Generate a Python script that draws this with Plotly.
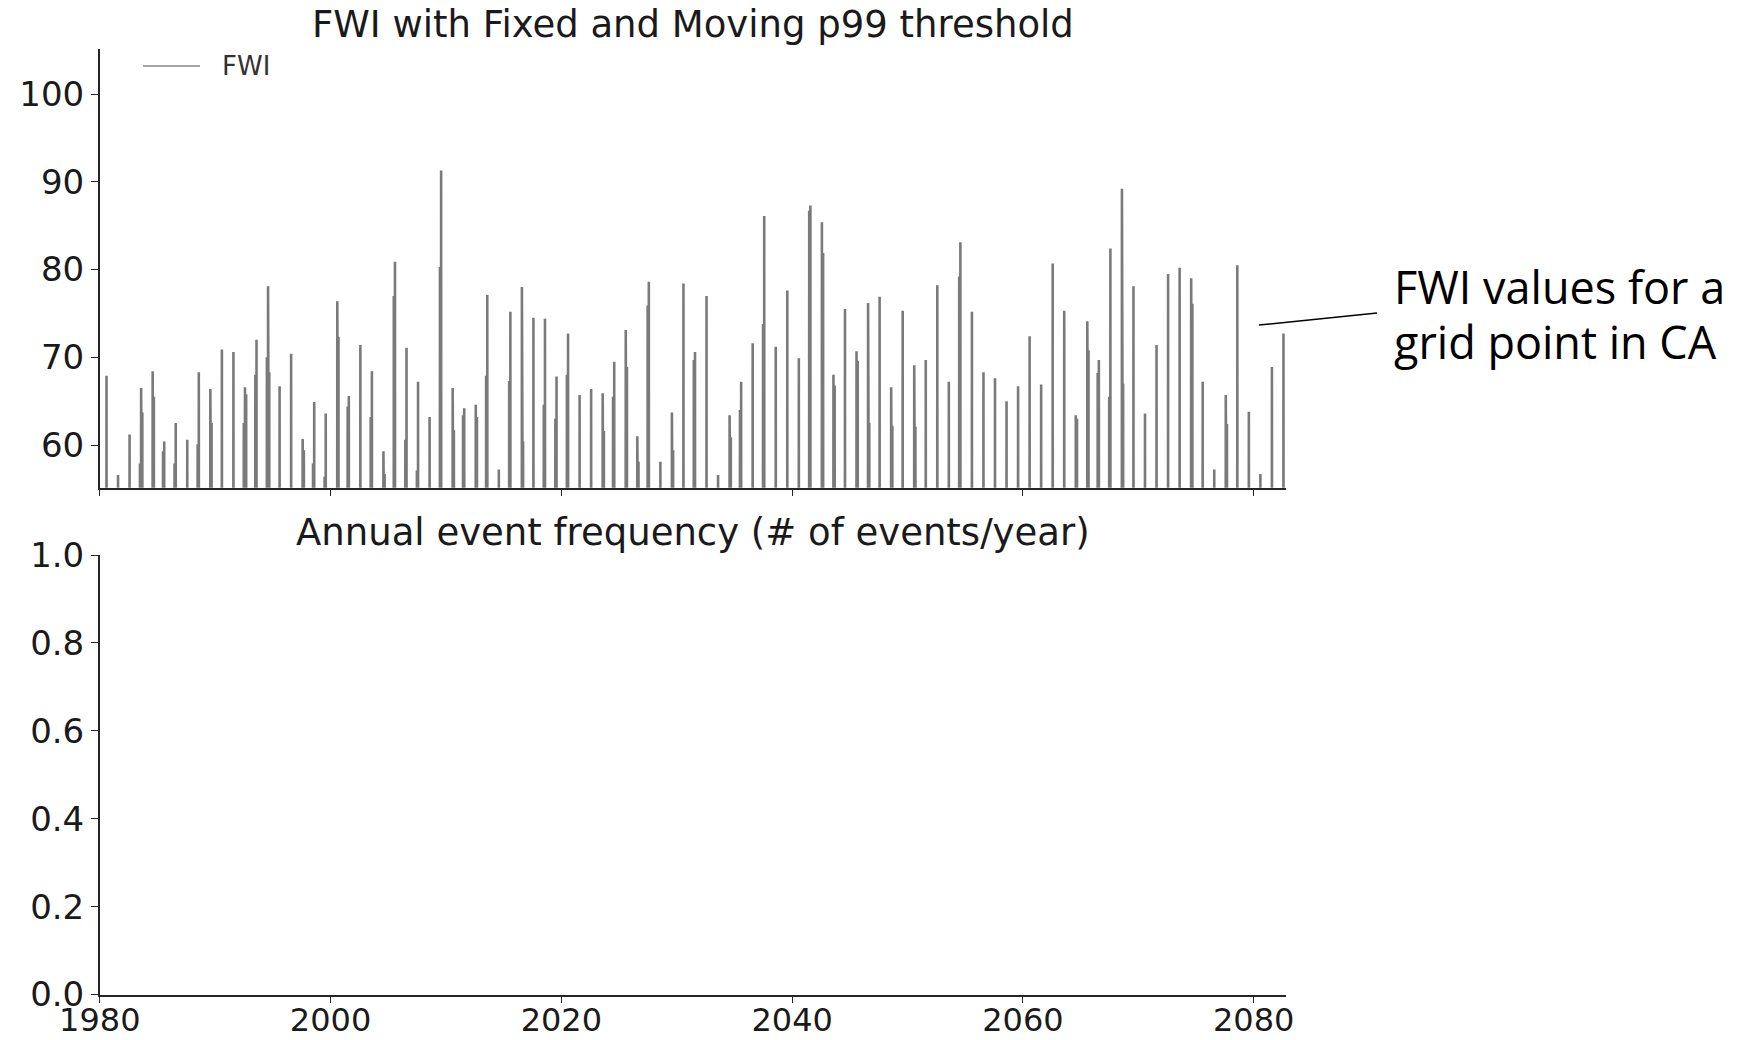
import plotly.graph_objects as go

# ---------------- data ----------------
years = list(range(1980, 2083))

# highest FWI spike of each fire season
peak_main = [
    67.9, 56.6, 61.2, 66.5, 68.4, 60.4, 62.5, 60.6, 68.3, 66.4,   # 1980-1989
    70.9, 70.6, 66.6, 72.0, 78.1, 66.7, 70.4, 60.7, 64.9, 63.6,   # 1990-1999
    76.4, 65.6, 71.4, 68.4, 59.3, 80.9, 71.1, 67.2, 63.2, 91.3,   # 2000-2009
    66.5, 64.2, 64.6, 77.1, 57.2, 75.2, 78.0, 74.5, 74.4, 67.8,   # 2010-2019
    72.7, 65.7, 66.4, 65.9, 69.5, 73.1, 61.0, 78.6, 58.1, 63.7,   # 2020-2029
    78.4, 70.6, 77.0, 56.6, 63.4, 67.2, 71.6, 86.1, 71.2, 77.6,   # 2030-2039
    69.9, 87.3, 85.4, 68.0, 75.5, 70.7, 76.2, 76.9, 66.6, 75.3,   # 2040-2049
    69.1, 69.7, 78.2, 67.2, 83.1, 75.2, 68.3, 67.6, 65.0, 66.7,   # 2050-2059
    72.4, 66.9, 80.7, 75.3, 63.4, 74.1, 69.7, 82.4, 89.2, 78.1,   # 2060-2069
    63.6, 71.4, 79.5, 80.2, 79.0, 67.2, 57.2, 65.7, 80.5, 63.8,   # 2070-2079
    56.7, 68.9, 72.7,                                             # 2080-2082
]

# smaller spike earlier in the same season (None = none visible above 55)
peak_early = [
    None, None, None, 57.9, None, 59.3, 57.9, None, 60.1, None,
    None, None, 62.5, 68.0, 70.0, None, None, None, 57.9, 56.4,
    None, 64.4, None, 63.2, None, 77.0, 60.6, 57.1, None, 80.3,
    None, 63.4, None, 67.9, None, 67.3, None, None, 64.6, 63.0,
    68.0, None, None, None, 65.5, None, None, 75.9, None, None,
    None, 69.7, None, None, None, 64.0, None, 73.8, None, None,
    None, 86.7, None, None, None, None, None, None, None, None,
    None, None, None, None, 79.2, None, None, None, None, None,
    None, None, None, None, None, None, 68.2, 65.5, None, None,
    None, None, None, None, None, None, None, None, None, None,
    None, None, None,
]

# smaller spike later in the same season
peak_late = [
    None, None, None, 63.7, 65.5, None, None, None, None, 62.5,
    None, None, 65.8, None, 68.3, None, None, 59.4, None, None,
    72.3, None, None, None, 56.7, None, None, None, None, None,
    61.7, None, 63.2, None, None, None, 60.4, None, None, None,
    None, None, None, 61.6, None, 68.9, 58.1, None, None, 59.4,
    None, None, None, None, 60.9, None, None, None, None, None,
    None, None, 81.9, 66.8, None, 69.6, 62.5, None, 62.2, None,
    62.1, None, None, None, None, None, None, None, None, None,
    None, None, None, None, 63.0, 70.8, None, None, 67.0, None,
    None, None, None, None, 76.1, None, None, 62.4, None, None,
    None, None, None,
]

# FWI between events drops well below the plotted window (off-scale trough)
fwi_trough = 40.0

# day of year of the spikes
day_early, day_main, day_late = 175, 212, 250
half_width_days = 3

y_ticks_top = [60, 70, 80, 90, 100]
y_ticks_bottom = [0.0, 0.2, 0.4, 0.6, 0.8, 1.0]
x_ticks = [1980, 2000, 2020, 2040, 2060, 2080]

# ---------------- build the daily-like series ----------------
t, v = [], []
for yr, e, m, l in zip(years, peak_early, peak_main, peak_late):
    for day, val in ((day_early, e), (day_main, m), (day_late, l)):
        if val is None:
            continue
        t += [yr + (day - half_width_days) / 365.0, yr + day / 365.0,
              yr + (day + half_width_days) / 365.0]
        v += [fwi_trough, val, fwi_trough]

W, H = 1758, 1040
FONT = "DejaVu Sans"
AX = "#262626"

x_dom = [99.8 / W, 1286 / W]
top_dom = [1 - 487.7 / H, 1 - 49.3 / H]
bot_dom = [1 - 994.5 / H, 1 - 555 / H]

fig = go.Figure()
fig.add_trace(go.Scatter(
    x=t, y=v, mode="lines", name="FWI",
    line=dict(color="#7a7a7a", width=2.6),
    xaxis="x", yaxis="y", showlegend=False, hoverinfo="skip",
))
# empty lower panel
fig.add_trace(go.Scatter(x=[], y=[], xaxis="x2", yaxis="y2", showlegend=False))

common_x = dict(
    range=[1980, 2082.8], tickvals=x_ticks, tickformat="d",
    showline=True, linecolor=AX, linewidth=1.5, ticks="outside",
    ticklen=7, tickwidth=1.3, tickcolor=AX, showgrid=False, zeroline=False,
    domain=x_dom, automargin=False, ticklabelstandoff=-11,
    tickfont=dict(family=FONT, size=32, color="#1a1a1a"),
)
common_y = dict(
    showline=True, linecolor=AX, linewidth=1.5, ticks="outside",
    ticklen=7, tickwidth=1.3, tickcolor=AX, showgrid=False, zeroline=False,
    automargin=False, tickfont=dict(family=FONT, size=34, color="#1a1a1a"),
)
fig.update_layout(
    width=W, height=H, margin=dict(l=0, r=0, t=0, b=0, pad=0, autoexpand=False),
    paper_bgcolor="white", plot_bgcolor="white",
    xaxis=dict(**common_x, anchor="y", showticklabels=False),
    xaxis2=dict(**common_x, anchor="y2"),
    yaxis=dict(**common_y, domain=top_dom, range=[55.14, 105.1],
               tickvals=y_ticks_top, anchor="x"),
    yaxis2=dict(**common_y, domain=bot_dom, range=[0, 1],
                tickvals=y_ticks_bottom, tickformat=".1f", anchor="x2"),
    showlegend=False,
)

# titles
fig.add_annotation(text="FWI with Fixed and Moving p99 threshold",
                   x=(x_dom[0] + x_dom[1]) / 2, y=1 - 24.7 / H, xref="paper", yref="paper",
                   xanchor="center", yanchor="middle", showarrow=False,
                   font=dict(family=FONT, size=37, color="#1a1a1a"))
fig.add_annotation(text="Annual event frequency (# of events/year)",
                   x=(x_dom[0] + x_dom[1]) / 2, y=1 - 532.6 / H, xref="paper", yref="paper",
                   xanchor="center", yanchor="middle", showarrow=False,
                   font=dict(family=FONT, size=37, color="#1a1a1a"))

# legend entry (drawn like matplotlib's)
fig.add_shape(type="line", xref="paper", yref="paper",
              x0=143 / W, x1=200 / W, y0=1 - 66 / H, y1=1 - 66 / H,
              line=dict(color="#a6a6a6", width=2))
fig.add_annotation(text="FWI", x=220 / W, y=1 - 66 / H, xref="paper", yref="paper",
                   xanchor="left", yanchor="middle", showarrow=False,
                   font=dict(family=FONT, size=26, color="#333333"))

# callout
fig.add_shape(type="line", xref="paper", yref="paper",
              x0=1259 / W, y0=1 - 325 / H, x1=1377 / W, y1=1 - 313 / H,
              line=dict(color="black", width=1.5))
for txt, yc in (("FWI values for a", 286), ("grid point in CA", 342)):
    fig.add_annotation(text=txt, x=1392 / W, y=1 - yc / H, xref="paper", yref="paper",
                       xanchor="left", yanchor="middle", align="left", showarrow=False,
                       font=dict(family="Open Sans", size=45, color="black"))

fig.write_html("out.html")
